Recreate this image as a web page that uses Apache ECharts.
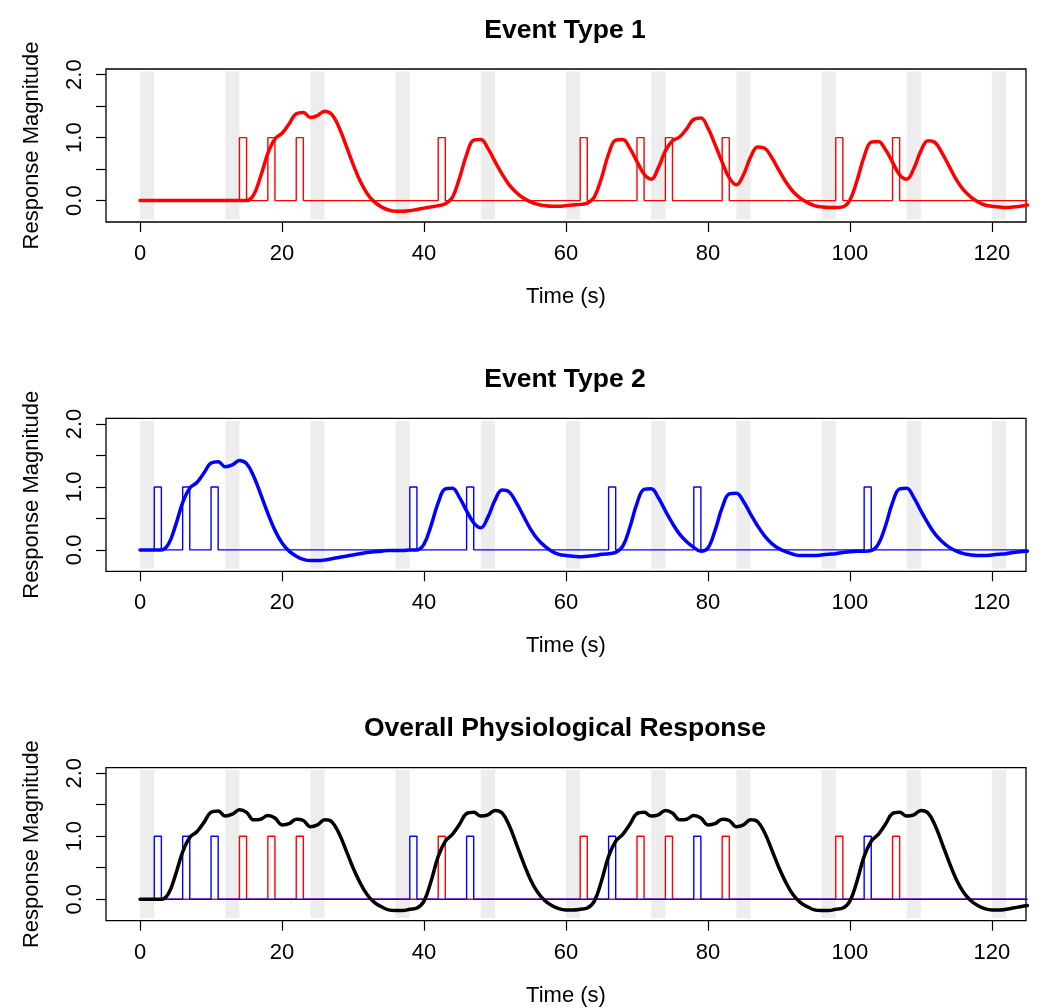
<!DOCTYPE html>
<html>
<head>
<meta charset="utf-8">
<title>Event responses</title>
<script src="https://cdn.jsdelivr.net/npm/echarts@6/dist/echarts.min.js"></script>
<style>
  html, body { margin: 0; padding: 0; background: #fff; }
  #chart { width: 1040px; height: 1008px; }
</style>
</head>
<body>
<div id="chart"></div>
<script>
const TIME = [
    0, 1, 2, 3, 4, 5, 6, 7, 8, 9, 10, 11, 12, 13, 14, 15, 16, 17, 18, 19,
    20, 21, 22, 23, 24, 25, 26, 27, 28, 29, 30, 31, 32, 33, 34, 35, 36, 37, 38, 39,
    40, 41, 42, 43, 44, 45, 46, 47, 48, 49, 50, 51, 52, 53, 54, 55, 56, 57, 58, 59,
    60, 61, 62, 63, 64, 65, 66, 67, 68, 69, 70, 71, 72, 73, 74, 75, 76, 77, 78, 79,
    80, 81, 82, 83, 84, 85, 86, 87, 88, 89, 90, 91, 92, 93, 94, 95, 96, 97, 98, 99,
    100, 101, 102, 103, 104, 105, 106, 107, 108, 109, 110, 111, 112, 113, 114, 115, 116, 117, 118, 119,
    120, 121, 122, 123, 124, 125
];

// stimulus onsets (s), each event lasts EVENT_DURATION
const TYPE1_ONSETS = [14, 18, 22, 42, 62, 70, 74, 82, 98, 106];
const TYPE2_ONSETS = [2, 6, 10, 38, 46, 66, 78, 102];
const EVENT_DURATION = 1;

// grey shaded intervals
const BAND_STARTS = [0, 12, 24, 36, 48, 60, 72, 84, 96, 108, 120];
const BAND_LENGTH = 2;

const TYPE1_RESPONSE = [
    0, 0, 0, 0, 0, 0, 0, 0, 0, 0, 0, 0, 0, 0, 0, 0.00, 0.09, 0.39, 0.75, 0.98,
    1.07, 1.22, 1.38, 1.40, 1.32, 1.35, 1.42, 1.37, 1.17, 0.88, 0.58, 0.31, 0.11, -0.02, -0.10, -0.15, -0.17, -0.17, -0.16, -0.14,
    -0.12, -0.10, -0.08, -0.05, 0.05, 0.36, 0.73, 0.96, 0.97, 0.83, 0.62, 0.42, 0.25, 0.13, 0.04, -0.02, -0.06, -0.08, -0.09, -0.09,
    -0.08, -0.07, -0.06, -0.04, 0.06, 0.36, 0.74, 0.96, 0.97, 0.83, 0.62, 0.42, 0.34, 0.52, 0.79, 0.95, 1.01, 1.14, 1.29, 1.31,
    1.15, 0.89, 0.61, 0.36, 0.25, 0.41, 0.69, 0.85, 0.83, 0.68, 0.48, 0.29, 0.14, 0.04, -0.03, -0.08, -0.10, -0.11, -0.11, -0.10,
    0.01, 0.32, 0.70, 0.93, 0.94, 0.81, 0.61, 0.41, 0.34, 0.51, 0.79, 0.95, 0.92, 0.75, 0.54, 0.33, 0.17, 0.06, -0.02, -0.07,
    -0.09, -0.10, -0.11, -0.10, -0.09, -0.07
];

const TYPE2_RESPONSE = [
    0, 0, 0, 0.00, 0.09, 0.39, 0.75, 0.98, 1.07, 1.22, 1.38, 1.40, 1.32, 1.35, 1.42, 1.37, 1.17, 0.88, 0.58, 0.31,
    0.11, -0.02, -0.10, -0.15, -0.17, -0.17, -0.16, -0.14, -0.12, -0.10, -0.08, -0.06, -0.04, -0.03, -0.02, -0.01, -0.01, -0.01, 0.00, 0.00,
    0.09, 0.39, 0.75, 0.97, 0.98, 0.83, 0.62, 0.43, 0.35, 0.52, 0.79, 0.95, 0.92, 0.75, 0.54, 0.33, 0.17, 0.06, -0.02, -0.07,
    -0.09, -0.10, -0.11, -0.10, -0.09, -0.07, -0.06, -0.04, 0.06, 0.36, 0.74, 0.96, 0.97, 0.83, 0.62, 0.42, 0.25, 0.13, 0.04, -0.02,
    0.03, 0.31, 0.67, 0.89, 0.90, 0.77, 0.57, 0.38, 0.22, 0.10, 0.02, -0.03, -0.07, -0.09, -0.09, -0.09, -0.08, -0.07, -0.06, -0.04,
    -0.03, -0.02, -0.02, -0.01, 0.09, 0.38, 0.75, 0.97, 0.98, 0.83, 0.62, 0.42, 0.25, 0.13, 0.04, -0.02, -0.06, -0.08, -0.09, -0.09,
    -0.08, -0.07, -0.06, -0.04, -0.03, -0.02
];

const OVERALL_RESPONSE = [
    0, 0, 0, 0.00, 0.09, 0.39, 0.75, 0.98, 1.07, 1.22, 1.38, 1.40, 1.32, 1.35, 1.42, 1.38, 1.26, 1.27, 1.33, 1.29,
    1.18, 1.20, 1.27, 1.25, 1.15, 1.18, 1.26, 1.23, 1.05, 0.78, 0.50, 0.26, 0.07, -0.05, -0.12, -0.17, -0.18, -0.18, -0.16, -0.14,
    -0.03, 0.29, 0.68, 0.92, 1.03, 1.19, 1.36, 1.38, 1.32, 1.34, 1.41, 1.37, 1.17, 0.88, 0.58, 0.31, 0.11, -0.02, -0.10, -0.15,
    -0.17, -0.17, -0.16, -0.14, -0.03, 0.29, 0.68, 0.92, 1.03, 1.19, 1.36, 1.38, 1.32, 1.34, 1.41, 1.37, 1.26, 1.27, 1.33, 1.29,
    1.18, 1.20, 1.27, 1.25, 1.15, 1.18, 1.26, 1.23, 1.05, 0.78, 0.50, 0.26, 0.07, -0.05, -0.12, -0.17, -0.18, -0.18, -0.16, -0.14,
    -0.03, 0.29, 0.68, 0.92, 1.03, 1.19, 1.36, 1.38, 1.32, 1.34, 1.41, 1.37, 1.17, 0.88, 0.58, 0.31, 0.11, -0.02, -0.10, -0.15,
    -0.17, -0.17, -0.16, -0.14, -0.12, -0.10
];

const X_TICKS = [0, 20, 40, 60, 80, 100, 120];
const Y_TICKS = [0, 0.5, 1, 1.5, 2];
const Y_LABELS = [0, 1, 2];

const FONT = '"Liberation Sans", Arial, Helvetica, sans-serif';
const X_MIN = -4.8, X_MAX = 124.8;
const Y_MIN = -0.34, Y_MAX = 2.09;
const BAND_Y = [-0.3, 2.05];

const GRID_LEFT = 106;
const GRID_WIDTH = 920;
const GRID_HEIGHT = 153;
const GRID_TOPS = [69, 418.3, 767.6];
const TITLE_TOPS = [12, 361.3, 710.6];
const TITLE_X = 560;
const RED = '#ff0000';
const BLUE = '#0000ff';

function boxcar(onsets) {
    const pts = [[TIME[0], 0]];
    onsets.forEach(o => {
        pts.push([o, 0], [o, 1], [o + EVENT_DURATION, 1], [o + EVENT_DURATION, 0]);
    });
    pts.push([TIME[TIME.length - 1], 0]);
    return pts;
}

function pairs(values) {
    return TIME.map((t, i) => [t, values[i]]);
}

function bandSeries(i) {
    return {
        type: 'custom',
        xAxisIndex: i,
        yAxisIndex: i,
        z: 1,
        silent: true,
        clip: true,
        data: BAND_STARTS.map(s => [s, s + BAND_LENGTH]),
        renderItem: (params, api) => {
            const p0 = api.coord([api.value(0), BAND_Y[1]]);
            const p1 = api.coord([api.value(1), BAND_Y[0]]);
            return {
                type: 'rect',
                shape: { x: p0[0], y: p0[1], width: p1[0] - p0[0], height: p1[1] - p0[1] },
                style: { fill: '#ededed' },
            };
        },
    };
}

function stimSeries(i, onsets, color, z) {
    return {
        type: 'line',
        xAxisIndex: i,
        yAxisIndex: i,
        z,
        data: boxcar(onsets),
        showSymbol: false,
        silent: true,
        lineStyle: { color, width: 1.4 },
    };
}

function curveSeries(i, values, color) {
    return {
        type: 'line',
        xAxisIndex: i,
        yAxisIndex: i,
        z: 5,
        data: pairs(values),
        smooth: 0.4,
        showSymbol: false,
        silent: true,
        lineStyle: { color, width: 3.5, cap: 'round', join: 'round' },
    };
}

function xAxis(i) {
    return {
        gridIndex: i,
        type: 'value',
        min: X_MIN,
        max: X_MAX,
        name: 'Time (s)',
        nameLocation: 'middle',
        nameGap: 64,
        nameTextStyle: { fontSize: 22, color: '#000', fontFamily: FONT },
        axisLine: { show: false, onZero: false },
        axisTick: { show: true, customValues: X_TICKS, length: 10, lineStyle: { color: '#000', width: 1.2 } },
        axisLabel: { customValues: X_TICKS, fontSize: 22, color: '#000', fontFamily: FONT, margin: 21 },
        splitLine: { show: false },
    };
}

function yAxis(i) {
    return {
        gridIndex: i,
        type: 'value',
        min: Y_MIN,
        max: Y_MAX,
        name: 'Response Magnitude',
        nameLocation: 'middle',
        nameRotate: 90,
        nameGap: 63,
        nameTextStyle: { fontSize: 22, color: '#000', fontFamily: FONT },
        axisLine: { show: false, onZero: false },
        axisTick: { show: true, customValues: Y_TICKS, length: 10, lineStyle: { color: '#000', width: 1.2 } },
        axisLabel: {
            customValues: Y_LABELS,
            rotate: 90,
            fontSize: 22,
            color: '#000',
            fontFamily: FONT,
            margin: 20,
            formatter: v => v.toFixed(1),
        },
        splitLine: { show: false },
    };
}

const PANEL_TITLES = ['Event Type 1', 'Event Type 2', 'Overall Physiological Response'];

const chart = echarts.init(document.getElementById('chart'), null, { renderer: 'canvas' });

chart.setOption({
    animation: false,
    backgroundColor: '#fff',
    title: PANEL_TITLES.map((text, i) => ({
        text,
        left: TITLE_X,
        top: TITLE_TOPS[i],
        textAlign: 'center',
        textStyle: { fontSize: 26.5, fontWeight: 'bold', color: '#000', fontFamily: FONT },
    })),
    grid: GRID_TOPS.map(top => ({
        left: GRID_LEFT,
        top,
        width: GRID_WIDTH,
        height: GRID_HEIGHT,
        show: true,
        borderColor: '#000',
        borderWidth: 1.3,
        backgroundColor: 'transparent',
    })),
    xAxis: [0, 1, 2].map(xAxis),
    yAxis: [0, 1, 2].map(yAxis),
    series: [
        // panel 1
        bandSeries(0),
        stimSeries(0, TYPE1_ONSETS, RED, 2),
        curveSeries(0, TYPE1_RESPONSE, RED),
        // panel 2
        bandSeries(1),
        stimSeries(1, TYPE2_ONSETS, BLUE, 2),
        curveSeries(1, TYPE2_RESPONSE, BLUE),
        // panel 3
        bandSeries(2),
        stimSeries(2, TYPE1_ONSETS, RED, 2),
        stimSeries(2, TYPE2_ONSETS, BLUE, 3),
        curveSeries(2, OVERALL_RESPONSE, '#000'),
    ],
});
</script>
</body>
</html>
